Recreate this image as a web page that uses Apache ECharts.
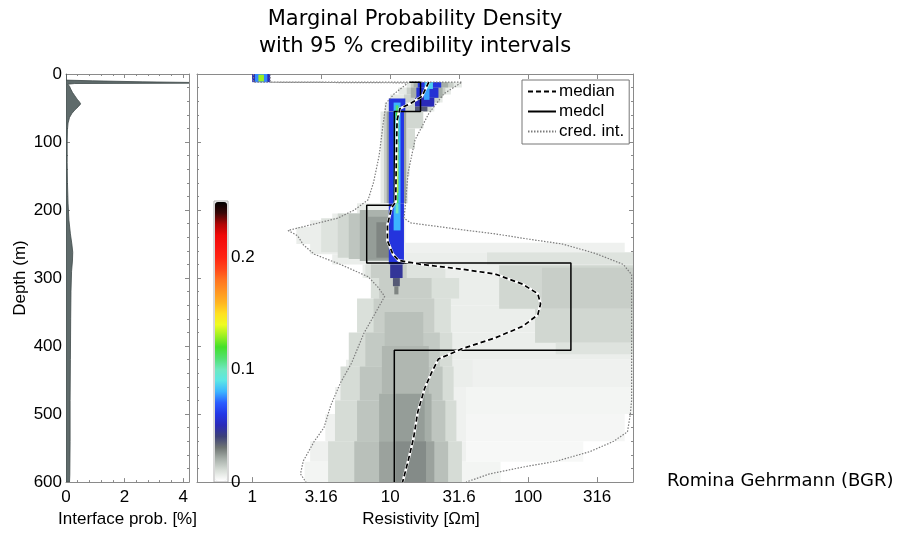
<!DOCTYPE html>
<html>
<head>
<meta charset="utf-8">
<script src="https://cdn.jsdelivr.net/npm/echarts@6/dist/echarts.min.js"></script>
<style>
  html, body { margin: 0; padding: 0; background: #fff; }
  #chart { width: 902px; height: 533px; }
</style>
</head>
<body>
<div id="chart"></div>
<script>
const AXIS_FONT = "'Liberation Sans', Arial, sans-serif";
const TITLE_FONT = "'DejaVu Sans', Verdana, sans-serif";
const FRAME = "#8a8a8a";

// resistivity axis is drawn in log10 units
const resTickValues = [0, 0.5, 1, 1.5, 2, 2.5];
const resTickLabels = ["1", "3.16", "10", "31.6", "100", "316"];

// colour scale 0 .. 0.25, one entry per 0.01
const colorbarColors = [
  "#ffffff", "#d6dcd6", "#a6aea8", "#6e7472", "#3c4078", "#2a2ab8", "#2236e6",
  "#2a5cff", "#3cb4ff", "#5ce6e6", "#6ee8c0", "#52e070", "#44e02a", "#9cf022",
  "#eefc22", "#ffe022", "#ffb422", "#ff9422", "#ff7420", "#ff461a", "#ff2412",
  "#f81410", "#f00808", "#b00404", "#3a0606", "#000000",
];

// interface probability [%] against depth [m]
const ifDepth = [0, 9, 10, 11.5, 12.5, 13.5, 14, 15, 18, 22, 27, 32, 37, 41, 44, 48, 53, 58, 64, 72, 82, 100, 130, 160, 190, 215, 235, 250, 262, 275, 290, 320, 360, 420, 480, 540, 590, 600];
const ifProb = [0, 0, 0.9, 2.6, 4.4, 4.4, 0.3, 0.06, 0.12, 0.16, 0.22, 0.3, 0.38, 0.46, 0.5, 0.42, 0.3, 0.2, 0.12, 0.07, 0.05, 0.04, 0.04, 0.05, 0.07, 0.1, 0.15, 0.2, 0.23, 0.22, 0.19, 0.17, 0.16, 0.15, 0.14, 0.14, 0.13, 0.12];

// [log10 resistivity, depth]
const medianCurve = [
  [1.28, 12], [1.23, 33], [1.15, 43], [1.07, 51], [1.05, 68], [1.045, 120], [1.04, 188],
  [1.01, 197], [0.98, 222], [0.98, 245], [1.02, 265], [1.06, 274], [1.23, 280], [1.52, 287],
  [1.76, 294], [1.96, 309], [2.07, 323], [2.09, 338], [2.07, 354], [1.96, 371], [1.76, 388],
  [1.52, 404], [1.35, 419], [1.30, 439], [1.25, 462], [1.20, 497], [1.17, 535], [1.13, 569], [1.09, 600],
];
const medclCurve = [
  [1.14, 12], [1.22, 12], [1.22, 55], [1.03, 55], [1.03, 193], [0.83, 193], [0.83, 278],
  [2.31, 278], [2.31, 406], [1.03, 406], [1.03, 600],
];
const credLow = [
  [0.01, 0], [0.01, 12], [1.13, 13], [1.03, 29], [0.97, 43], [0.95, 72], [0.92, 120], [0.88, 159],
  [0.84, 185], [0.74, 200], [0.62, 212], [0.40, 223], [0.26, 230], [0.33, 238], [0.37, 251],
  [0.45, 265], [0.64, 280], [0.84, 298], [0.91, 313], [0.96, 327], [0.88, 356], [0.81, 381],
  [0.72, 425], [0.64, 454], [0.57, 487], [0.52, 520], [0.45, 540], [0.37, 569], [0.35, 588], [0.39, 600],
];
const credHigh = [
  [0.13, 0], [0.13, 12], [1.52, 12], [1.39, 29], [1.28, 58], [1.18, 97], [1.13, 145], [1.11, 193],
  [1.10, 212], [1.15, 219], [1.30, 223], [1.52, 229], [1.76, 235], [2.01, 243], [2.25, 250],
  [2.49, 264], [2.69, 280], [2.75, 295], [2.75, 480], [2.74, 501], [2.72, 526], [2.62, 540],
  [2.45, 555], [2.21, 569], [1.96, 578], [1.72, 588], [1.55, 600],
];

// density cells: [depthTop, depthBottom, logRhoFrom, logRhoTo, density]
const cellsSurface = [
  [0, 12, 0.00, 0.13, 0.05],
  [0, 12, 0.02, 0.11, 0.075],
  [1, 11, 0.045, 0.085, 0.13],
];
const cellsUpper = [
  [12, 20, 1.12, 1.52, 0.006],
  [20, 30, 1.06, 1.44, 0.006],
  [30, 42, 1.00, 1.38, 0.006],
  [42, 55, 0.96, 1.32, 0.006],
  [12, 20, 1.15, 1.46, 0.013],
  [20, 30, 1.12, 1.40, 0.013],
  [30, 42, 1.10, 1.36, 0.012],
  [42, 55, 1.10, 1.30, 0.012],
  [12, 20, 1.17, 1.42, 0.02],
  [20, 35, 1.15, 1.38, 0.02],
  [12, 20, 1.20, 1.37, 0.058],
  [20, 35, 1.19, 1.35, 0.056],
  [35, 48, 1.18, 1.32, 0.05],
  [48, 55, 1.18, 1.27, 0.035],
  [12, 22, 1.25, 1.31, 0.085],
  [22, 38, 1.245, 1.285, 0.078],
  [36, 55, 0.99, 1.11, 0.058],
  [42, 55, 1.025, 1.075, 0.08],
  [46, 55, 1.04, 1.06, 0.11],
];
const cellsStreak = [
  [55, 190, 0.93, 1.13, 0.006],
  [55, 80, 1.10, 1.24, 0.011],
  [80, 110, 1.10, 1.18, 0.01],
  [110, 150, 1.10, 1.14, 0.009],
  [55, 190, 0.955, 1.12, 0.013],
  [55, 190, 0.975, 1.115, 0.022],
  [55, 190, 0.99, 1.10, 0.06],
  [55, 190, 1.025, 1.075, 0.08],
  [55, 100, 1.04, 1.06, 0.118],
  [100, 175, 1.04, 1.06, 0.13],
  [175, 190, 1.04, 1.06, 0.112],
];
const cellsMiddle = [
  [190, 205, 0.76, 1.11, 0.005],
  [205, 215, 0.58, 1.11, 0.005],
  [215, 225, 0.42, 1.11, 0.005],
  [225, 250, 0.32, 1.11, 0.005],
  [250, 265, 0.42, 1.11, 0.005],
  [265, 280, 0.58, 1.11, 0.005],
  [248, 262, 1.10, 2.70, 0.004],
  [262, 281, 1.10, 1.70, 0.005],
  [262, 281, 1.70, 2.78, 0.008],
  [212, 262, 0.50, 1.00, 0.008],
  [205, 270, 0.62, 1.00, 0.011],
  [205, 272, 0.70, 1.00, 0.015],
  [200, 275, 0.78, 1.00, 0.019],
  [210, 273, 0.84, 1.00, 0.023],
  [218, 270, 0.90, 1.00, 0.027],
  [190, 282, 0.99, 1.10, 0.058],
  [190, 230, 1.025, 1.075, 0.08],
  [190, 205, 1.04, 1.06, 0.1],
];
const cellsLower = [
  [280, 300, 0.80, 2.78, 0.005],
  [300, 340, 0.92, 2.78, 0.005],
  [340, 380, 0.84, 2.78, 0.005],
  [380, 420, 0.76, 2.78, 0.005],
  [420, 460, 0.68, 1.60, 0.005],
  [420, 460, 1.60, 2.78, 0.004],
  [460, 500, 0.60, 1.55, 0.004],
  [460, 500, 1.55, 2.76, 0.003],
  [500, 540, 0.53, 1.55, 0.004],
  [500, 540, 1.55, 2.70, 0.0025],
  [540, 570, 0.42, 1.55, 0.004],
  [540, 570, 1.55, 2.40, 0.002],
  [570, 600, 0.38, 1.80, 0.003],
  [281, 345, 1.79, 2.78, 0.011],
  [285, 345, 2.10, 2.78, 0.013],
  [345, 395, 2.05, 2.78, 0.011],
  [395, 412, 2.20, 2.78, 0.008],
  [280, 300, 0.82, 1.40, 0.008],
  [300, 330, 0.86, 1.50, 0.009],
  [330, 380, 0.76, 1.44, 0.009],
  [380, 430, 0.70, 1.45, 0.010],
  [430, 480, 0.64, 1.46, 0.010],
  [480, 540, 0.60, 1.48, 0.010],
  [540, 600, 0.55, 1.52, 0.010],
  [280, 300, 0.86, 1.12, 0.013],
  [300, 330, 0.92, 1.30, 0.013],
  [330, 380, 0.88, 1.32, 0.013],
  [380, 430, 0.82, 1.36, 0.014],
  [430, 480, 0.78, 1.38, 0.015],
  [480, 540, 0.76, 1.40, 0.015],
  [540, 600, 0.74, 1.42, 0.016],
  [350, 400, 0.96, 1.24, 0.016],
  [400, 470, 0.94, 1.28, 0.018],
  [470, 540, 0.92, 1.30, 0.02],
  [540, 600, 0.92, 1.32, 0.022],
  [470, 540, 1.04, 1.25, 0.023],
  [540, 600, 1.04, 1.26, 0.026],
  [280, 300, 1.00, 1.09, 0.045],
  [300, 312, 1.02, 1.07, 0.035],
  [312, 324, 1.03, 1.06, 0.027],
];

const chart = echarts.init(document.getElementById("chart"), null, { renderer: "canvas" });

function renderCell(params, api) {
  const a = api.coord([api.value(2), api.value(0)]);
  const b = api.coord([api.value(3), api.value(1)]);
  return {
    type: "rect",
    shape: {
      x: Math.min(a[0], b[0]),
      y: Math.min(a[1], b[1]),
      width: Math.abs(b[0] - a[0]),
      height: Math.abs(b[1] - a[1]),
    },
    style: { fill: api.visual("color") },
  };
}

function renderInterface(params, api) {
  const pts = [api.coord([0, ifDepth[0]])];
  ifDepth.forEach((d, i) => pts.push(api.coord([ifProb[i], d])));
  pts.push(api.coord([0, ifDepth[ifDepth.length - 1]]));
  return {
    type: "polygon",
    shape: { points: pts },
    style: { fill: "#5f6b6b", stroke: "#404a4a", lineWidth: 0.8 },
  };
}

const labelStyle = { color: "#000", fontSize: 17, fontFamily: AXIS_FONT };
const frameLine = { show: true, onZero: false, lineStyle: { color: FRAME, width: 1 } };

function depthAxis(gridIndex, position, withLabels) {
  return {
    type: "value", gridIndex, position, inverse: true, min: 0, max: 600, interval: 100,
    axisLine: frameLine,
    axisTick: { show: true, inside: true, length: 4, lineStyle: { color: FRAME } },
    minorTick: { show: true, splitNumber: 5, length: 2, lineStyle: { color: FRAME } },
    axisLabel: withLabels ? { ...labelStyle, margin: 4 } : { show: false },
    splitLine: { show: false },
  };
}

function probAxis(position, withLabels) {
  return {
    type: "value", gridIndex: 0, position, min: 0, max: 4.2, interval: 2,
    axisLine: frameLine,
    axisTick: { show: true, inside: true, length: 4, lineStyle: { color: FRAME } },
    minorTick: { show: true, splitNumber: 5, length: 2, lineStyle: { color: FRAME } },
    axisLabel: withLabels ? { ...labelStyle, margin: 7, showMaxLabel: false } : { show: false },
    splitLine: { show: false },
    name: withLabels ? "Interface prob. [%]" : "",
    nameLocation: "middle", nameGap: 26,
    nameTextStyle: labelStyle,
  };
}

function resAxis(position, withLabels) {
  return {
    type: "value", gridIndex: 1, position, min: -0.4, max: 2.76,
    axisLine: frameLine,
    axisTick: { show: true, inside: true, length: 5, customValues: resTickValues, lineStyle: { color: FRAME } },
    axisLabel: withLabels
      ? { ...labelStyle, margin: 7, customValues: resTickValues,
          formatter: (v) => resTickLabels[resTickValues.indexOf(Math.round(v * 10) / 10)] }
      : { show: false },
    splitLine: { show: false },
    name: withLabels ? "Resistivity [Ωm]" : "",
    nameLocation: "middle", nameGap: 26,
    nameTextStyle: { ...labelStyle, padding: [0, 0, 0, 12] },
  };
}

const option = {
  animation: false,
  backgroundColor: "#fff",
  textStyle: { fontFamily: AXIS_FONT },
  title: [
    {
      text: "Marginal Probability Density\nwith 95 % credibility intervals",
      left: 415, top: 6, textAlign: "center", padding: 0,
      textStyle: { fontFamily: TITLE_FONT, fontSize: 21, fontWeight: "normal", color: "#000", lineHeight: 27 },
    },
    {
      text: "Romina Gehrmann (BGR)",
      left: 667, top: 472, padding: 0,
      textStyle: { fontFamily: TITLE_FONT, fontSize: 18, fontWeight: "normal", color: "#000" },
    },
  ],
  grid: [
    { left: 66, top: 74, width: 123, height: 415 },
    { left: 197, top: 74, width: 436, height: 415 },
    { left: 214, top: 201, width: 14, height: 281, show: true, borderColor: "#b0b0b0", borderWidth: 1, backgroundColor: "transparent" },
  ],
  xAxis: [
    probAxis("bottom", true),
    probAxis("top", false),
    resAxis("bottom", true),
    resAxis("top", false),
    { type: "value", gridIndex: 2, show: false, min: 0, max: 1 },
  ],
  yAxis: [
    {
      ...depthAxis(0, "left", true),
      name: "Depth (m)", nameLocation: "middle", nameGap: 37, nameTextStyle: labelStyle,
    },
    depthAxis(0, "right", false),
    depthAxis(1, "left", false),
    depthAxis(1, "right", false),
    {
      type: "value", gridIndex: 2, position: "right", min: 0, max: 0.25, interval: 0.1,
      axisLine: { show: false }, axisTick: { show: false }, splitLine: { show: false },
      axisLabel: { ...labelStyle, margin: 3, showMaxLabel: false },
    },
  ],
  visualMap: {
    type: "continuous", min: 0, max: 0.25, dimension: 4, seriesIndex: 0,
    inRange: { color: colorbarColors },
    left: 215, top: 202, itemWidth: 12, itemHeight: 279, padding: 0,
    calculable: false, hoverLink: false, orient: "vertical",
  },
  legend: {
    data: ["median", "medcl", "cred. int."],
    orient: "vertical", left: 522, top: 80,
    padding: [3, 5, 4, 5], itemGap: 3, itemWidth: 28, itemHeight: 17,
    itemStyle: { opacity: 0 },
    backgroundColor: "#fff", borderColor: "#777", borderWidth: 1, borderRadius: 0,
    textStyle: { ...labelStyle, padding: [0, 0, 0, -2] },
  },
  series: [
    {
      type: "custom", name: "density", xAxisIndex: 2, yAxisIndex: 2, clip: true, silent: true,
      renderItem: renderCell,
      encode: { x: [2, 3], y: [0, 1] },
      data: [...cellsSurface, ...cellsUpper, ...cellsStreak, ...cellsMiddle, ...cellsLower],
    },
    {
      type: "custom", name: "interface", xAxisIndex: 0, yAxisIndex: 0, clip: true, silent: true,
      renderItem: renderInterface,
      encode: { x: 0, y: 1 },
      data: [[0, 0]],
    },
    {
      type: "line", name: "cred. int.", xAxisIndex: 2, yAxisIndex: 2, symbol: "none",
      itemStyle: { color: "#7c7c7c" },
      lineStyle: { color: "#7c7c7c", width: 1.2, type: [1.5, 1.5] }, data: credLow,
    },
    {
      type: "line", name: "cred. int.", xAxisIndex: 2, yAxisIndex: 2, symbol: "none",
      itemStyle: { color: "#7c7c7c" },
      lineStyle: { color: "#7c7c7c", width: 1.2, type: [1.5, 1.5] }, data: credHigh,
    },
    {
      type: "line", name: "medcl", xAxisIndex: 2, yAxisIndex: 2, symbol: "none",
      itemStyle: { color: "#000" },
      lineStyle: { color: "#000", width: 1.5 }, data: medclCurve,
    },
    {
      type: "line", name: "median-bg", xAxisIndex: 2, yAxisIndex: 2, symbol: "none", silent: true,
      lineStyle: { color: "#fff", width: 2.6 }, data: medianCurve,
    },
    {
      type: "line", name: "median", xAxisIndex: 2, yAxisIndex: 2, symbol: "none",
      itemStyle: { color: "#000" },
      lineStyle: { color: "#000", width: 1.7, type: [5, 3] }, data: medianCurve,
    },
  ],
};

chart.setOption(option);
</script>
</body>
</html>
